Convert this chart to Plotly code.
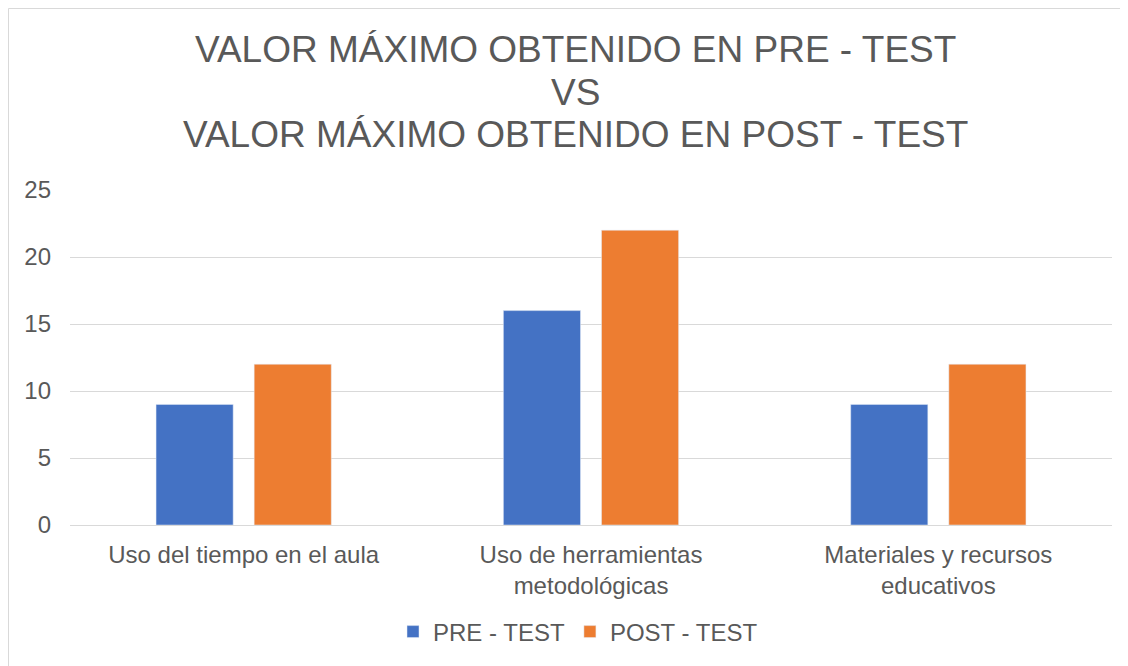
import plotly.graph_objects as go

categories = ["Uso del tiempo en el aula", "Uso de herramientas<br>metodológicas", "Materiales y recursos<br>educativos"]
pre_test = [9, 16, 9]
post_test = [12, 22, 12]
series_names = ["PRE - TEST", "POST - TEST"]
y_ticks = [0, 5, 10, 15, 20, 25]
title_lines = ["VALOR MÁXIMO OBTENIDO EN PRE - TEST", "VS", "VALOR MÁXIMO OBTENIDO EN POST - TEST"]

FONT = "Liberation Sans, Arial, sans-serif"
GREY = "#595959"

fig = go.Figure()
fig.add_trace(go.Bar(x=categories, y=pre_test, name=series_names[0], marker_color="#4472C4"))
fig.add_trace(go.Bar(x=categories, y=post_test, name=series_names[1], marker_color="#ED7D31"))

# page has an 8px body margin: figure origin sits at page (8, 8)
OFF = 8
W, H = 1128 - OFF, 666 - OFF
L, R, T, B = 62, 16, 182, 141
pw, ph = W - L - R, H - T - B

def px_x(p):
    # p in page pixels
    return (p - OFF - L) / pw

def px_y(p):
    return (H - B - (p - OFF)) / ph

title_y_page = [49, 92, 134]
annotations = [
    dict(text=t, xref="paper", yref="paper", x=px_x(575), y=px_y(yp),
         xanchor="center", yanchor="middle", showarrow=False,
         font=dict(family=FONT, size=37, color=GREY))
    for t, yp in zip(title_lines, title_y_page)
]

fig.update_layout(
    width=W, height=H,
    margin=dict(l=L, r=R, t=T, b=B),
    paper_bgcolor="white", plot_bgcolor="white",
    font=dict(family=FONT, color=GREY, size=24),
    annotations=annotations,
    barmode="group",
    bargap=0.435,
    bargroupgap=0.214,
    showlegend=True,
    legend=dict(
        orientation="h", x=px_x(393), xanchor="left",
        y=px_y(632), yanchor="middle",
        font=dict(size=24, color=GREY, family=FONT),
    ),
    xaxis=dict(
        showgrid=False, showline=True, linecolor="#D9D9D9", linewidth=1,
        ticks="", tickfont=dict(size=24, color=GREY), ticklabelstandoff=8,
    ),
    yaxis=dict(
        range=[0, 25], tickvals=y_ticks, showgrid=True, gridcolor="#D9D9D9",
        gridwidth=1, zeroline=False, showline=False, ticks="",
        tickfont=dict(size=24, color=GREY), ticklabelstandoff=18,
    ),
    shapes=[
        dict(type="line", xref="paper", yref="paper",
             x0=px_x(8.5), x1=px_x(1140), y0=px_y(8.5), y1=px_y(8.5),
             line=dict(color="#D9D9D9", width=1)),
        dict(type="line", xref="paper", yref="paper",
             x0=px_x(8.5), x1=px_x(8.5), y0=px_y(8.5), y1=px_y(680),
             line=dict(color="#D9D9D9", width=1)),
    ],
)

fig.write_html("out.html")
